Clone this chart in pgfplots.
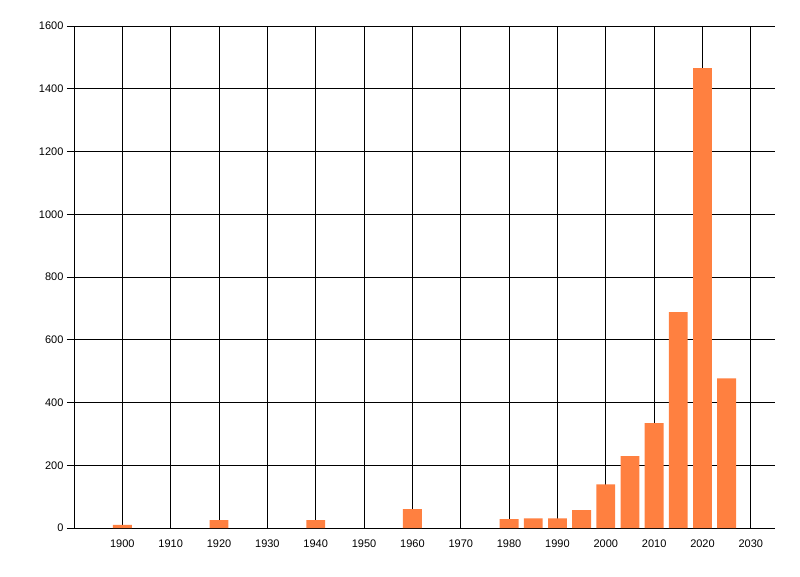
\documentclass[border=0pt]{standalone}
\usepackage{fontspec}
\setmainfont{Liberation Sans}
\usepackage{pgfplots}
\pgfplotsset{compat=1.18}
\definecolor{barc}{RGB}{255,128,64}
\begin{document}
\begin{tikzpicture}
\begin{axis}[
  at={(0pt,0pt)}, anchor=south west,
  scale only axis, width=701pt, height=502pt,
  xmin=1890, xmax=2035, ymin=0, ymax=1600,
  xtick={1900,1910,...,2030}, ytick={0,200,...,1600},
  axis x line*=bottom, axis y line*=left,
  x axis line style={-, line width=0.9pt},
  y axis line style={-, line width=0.9pt},
  grid=major, major grid style={black, line width=0.9pt},
  xtick style={draw=none},
  ytick style={black, line width=0.9pt},
  tick align=outside, major tick length=7pt,
  xticklabel style={/pgf/number format/1000 sep={}, font=\fontsize{11}{13}\selectfont, yshift=-1pt},
  yticklabel style={/pgf/number format/1000 sep={}, font=\fontsize{11}{13}\selectfont},
  /pgf/number format/assume math mode=true,
  scaled ticks=false,
  clip=false,
]
\addplot[ybar, bar width=3.9, fill=barc, draw=none] coordinates {
(1900,10) (1920,25) (1940,25) (1960,60) (1980,28) (1985,31) (1990,31) (1995,57)
(2000,139) (2005,229) (2010,334) (2015,688) (2020,1466) (2025,477)
};
\end{axis}
\useasboundingbox (-74pt,-48pt) rectangle (726pt,528pt);
\end{tikzpicture}
\end{document}
